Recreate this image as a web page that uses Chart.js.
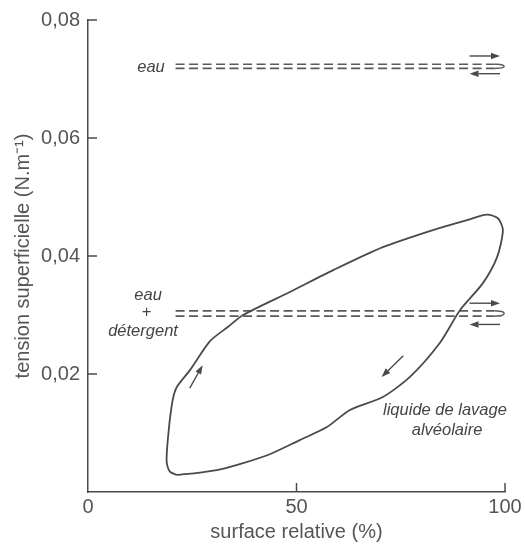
<!DOCTYPE html>
<html>
<head>
<meta charset="utf-8">
<script src="https://cdn.jsdelivr.net/npm/chart.js@4.4.1/dist/chart.umd.min.js"></script>
<style>
html,body{margin:0;padding:0;background:#fff;}
#c{display:block;}
</style>
</head>
<body>
<canvas id="c" width="525" height="545"></canvas>
<script>
// ---- data ----
const xTicks = [0, 50, 100];
const yTicks = [0.02, 0.04, 0.06, 0.08];

// hysteresis loop of alveolar washing liquid (clockwise)
const loopX = [21.3, 19.7, 18.9, 18.9, 19.2, 19.7, 20.4, 21.3, 24.5, 29.3, 33.6, 37.2, 48.4, 58.8, 70.7, 82.7, 90.9, 95.7, 98.3, 99.5, 98.1, 94.7, 89.2, 84.4, 77.2, 70.7, 62.8, 57.3, 50.8, 43.6, 37.2, 30.9, 24.5, 21.3];
const loopY = [0.0029, 0.0034, 0.0049, 0.0066, 0.0093, 0.0127, 0.0159, 0.0178, 0.0207, 0.0256, 0.0280, 0.0300, 0.0339, 0.0376, 0.0415, 0.0444, 0.0461, 0.0470, 0.0464, 0.0444, 0.0398, 0.0354, 0.0308, 0.0253, 0.0195, 0.0161, 0.0139, 0.0110, 0.0088, 0.0064, 0.0049, 0.0037, 0.0031, 0.0029];

// water: compression / expansion (dashed)
const waterX = [21, 97.5];
const waterUpY = 0.0725;
const waterLowY = 0.0718;
// water + detergent
const detX = [21, 97.5];
const detUpY = 0.0307;
const detLowY = 0.0298;

// end turn-around of the dashed pairs
const turnX = [97.5, 99.2, 99.8, 99.2, 97.5];

// text labels [text, x, y]
const labels = [
  ['eau', 15.1, 0.0720],
  ['eau', 14.4, 0.0333],
  ['+', 14.0, 0.0304],
  ['détergent', 13.2, 0.0273],
  ['liquide de lavage', 85.6, 0.0139],
  ['alvéolaire', 86.1, 0.0104]
];
// arrows [x1, y1, x2, y2]
const arrows = [
  [91.5, 0.0739, 98.8, 0.0739],
  [98.8, 0.0709, 91.5, 0.0709],
  [91.5, 0.0320, 98.8, 0.0320],
  [98.8, 0.0284, 91.5, 0.0284],
  [24.4, 0.0176, 27.5, 0.0215],
  [75.6, 0.0231, 70.4, 0.0195]
];

// ---- build ----
const LINE = '#4a4a4a';
const DASH = '#5a5a5a';
const TXT = '#555';
const FONT = "'Liberation Sans', Arial, sans-serif";

function pts(xs, ys) { return xs.map((x, i) => ({x: x, y: Array.isArray(ys) ? ys[i] : ys})); }
function turn(up, low) {
  const mid = (up + low) / 2;
  return pts(turnX, [up, up - (up - mid) * 0.25, mid, low + (mid - low) * 0.25, low]);
}

const dashed = {borderColor: DASH, borderWidth: 1.7, borderDash: [9, 4.5], pointRadius: 0, showLine: true, fill: false};
const solidTurn = {borderColor: DASH, borderWidth: 1.5, pointRadius: 0, showLine: true, fill: false, tension: 0.4};

const datasets = [
  {data: pts(loopX, loopY), borderColor: LINE, borderWidth: 1.8, pointRadius: 0, showLine: true, fill: false, tension: 0.25},
  Object.assign({data: pts(waterX, waterUpY)}, dashed),
  Object.assign({data: pts(waterX, waterLowY)}, dashed),
  Object.assign({data: pts(detX, detUpY)}, dashed),
  Object.assign({data: pts(detX, detLowY)}, dashed),
  Object.assign({data: turn(waterUpY, waterLowY)}, solidTurn),
  Object.assign({data: turn(detUpY, detLowY)}, solidTurn)
];

const extras = {
  id: 'extras',
  afterDraw(chart) {
    const ctx = chart.ctx, xs = chart.scales.x, ys = chart.scales.y;
    const area = chart.chartArea;
    ctx.save();
    // inward ticks
    ctx.strokeStyle = LINE; ctx.lineWidth = 1.5;
    xTicks.forEach(v => { if (v === 0) return; const p = xs.getPixelForValue(v);
      ctx.beginPath(); ctx.moveTo(p, area.bottom); ctx.lineTo(p, area.bottom - 9); ctx.stroke(); });
    yTicks.forEach(v => { const p = ys.getPixelForValue(v);
      ctx.beginPath(); ctx.moveTo(area.left, p); ctx.lineTo(area.left + 9, p); ctx.stroke(); });
    // arrows
    ctx.fillStyle = LINE; ctx.lineWidth = 1.4;
    arrows.forEach(a => {
      const x1 = xs.getPixelForValue(a[0]), y1 = ys.getPixelForValue(a[1]);
      const x2 = xs.getPixelForValue(a[2]), y2 = ys.getPixelForValue(a[3]);
      const ang = Math.atan2(y2 - y1, x2 - x1);
      const hl = 9, hw = 3.2;
      const bx = x2 - hl * Math.cos(ang), by = y2 - hl * Math.sin(ang);
      ctx.beginPath(); ctx.moveTo(x1, y1); ctx.lineTo(bx, by); ctx.stroke();
      ctx.beginPath();
      ctx.moveTo(x2, y2);
      ctx.lineTo(bx + hw * Math.sin(ang), by - hw * Math.cos(ang));
      ctx.lineTo(bx - hw * Math.sin(ang), by + hw * Math.cos(ang));
      ctx.closePath(); ctx.fill();
    });
    // text
    ctx.fillStyle = '#444';
    ctx.font = 'italic 16.5px ' + FONT;
    ctx.textAlign = 'center'; ctx.textBaseline = 'middle';
    labels.forEach(l => {
      ctx.fillText(l[0], xs.getPixelForValue(l[1]), ys.getPixelForValue(l[2]));
    });
    ctx.restore();
  }
};

new Chart(document.getElementById('c'), {
  type: 'scatter',
  data: {datasets: datasets},
  options: {
    responsive: false,
    animation: false,
    layout: {padding: {top: 20, right: 20, left: 0, bottom: 0}},
    plugins: {legend: {display: false}, tooltip: {enabled: false}},
    scales: {
      x: {
        type: 'linear', min: 0, max: 100,
        afterBuildTicks: s => { s.ticks = xTicks.map(v => ({value: v})); },
        afterFit: s => { s.height = 53; },
        grid: {display: false, drawTicks: false},
        border: {display: true, color: LINE, width: 1.5},
        ticks: {padding: 3, color: TXT, font: {family: FONT, size: 20}, callback: v => String(v)},
        title: {display: true, text: 'surface relative (%)', color: TXT, font: {family: FONT, size: 20}, padding: {top: 0, bottom: 1}}
      },
      y: {
        type: 'linear', min: 0, max: 0.08,
        afterBuildTicks: s => { s.ticks = yTicks.map(v => ({value: v})); },
        afterFit: s => { s.width = 88; },
        grid: {display: false, drawTicks: false},
        border: {display: true, color: LINE, width: 1.5},
        ticks: {padding: 8, color: TXT, font: {family: FONT, size: 20}, callback: v => v.toFixed(2).replace('.', ',')},
        title: {display: true, text: 'tension superficielle (N.m⁻¹)', color: TXT, font: {family: FONT, size: 20}, padding: {top: 11, bottom: 0}}
      }
    }
  },
  plugins: [extras]
});
</script>
</body>
</html>
